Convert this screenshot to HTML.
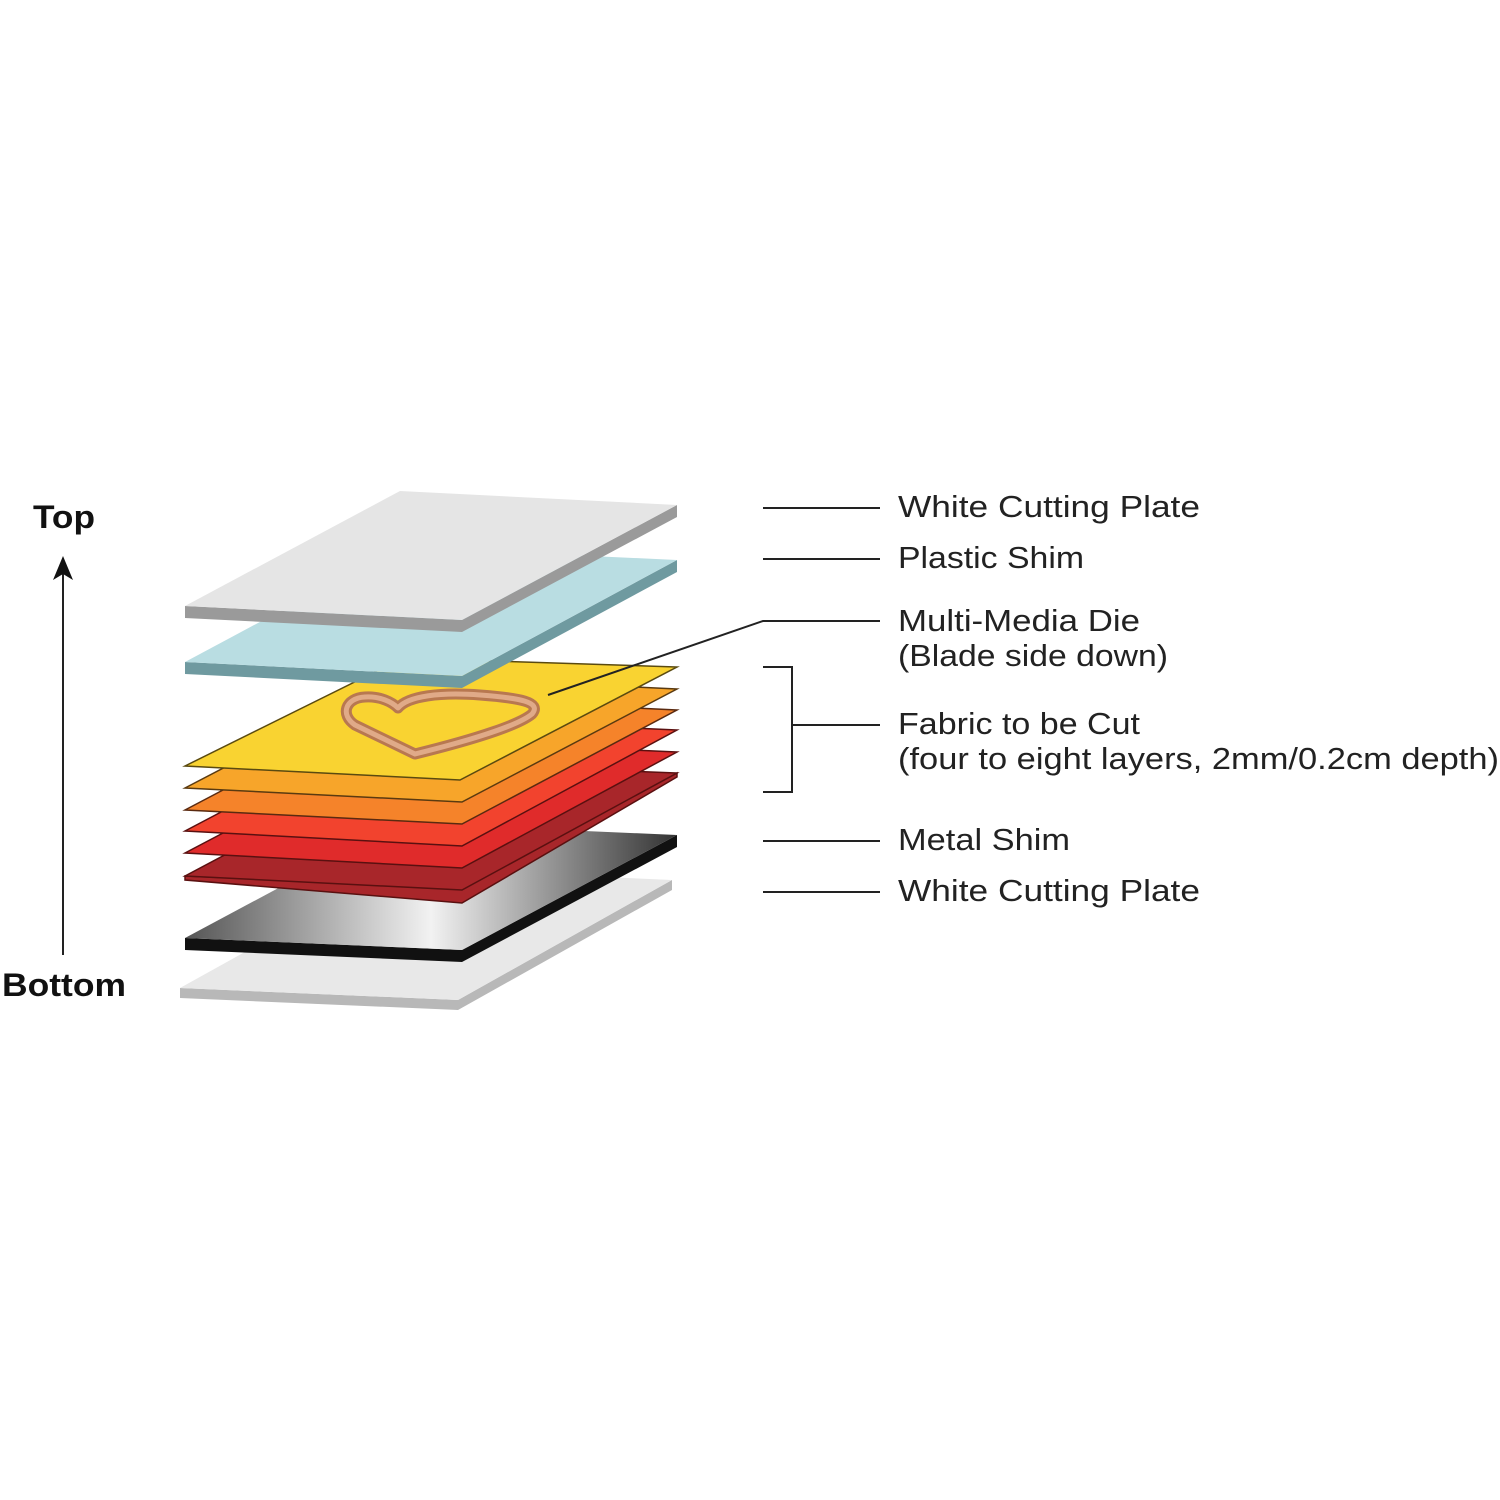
<!DOCTYPE html>
<html><head><style>html,body{margin:0;padding:0;background:#fff}svg{display:block}</style></head>
<body>
<svg width="1500" height="1500" viewBox="0 0 1500 1500" xmlns="http://www.w3.org/2000/svg">
<defs>
<linearGradient id="metal" x1="0" y1="0" x2="1" y2="0">
<stop offset="0" stop-color="#555"/><stop offset="0.5" stop-color="#f2f2f2"/><stop offset="1" stop-color="#333"/>
</linearGradient>
</defs>
<polygon points="180,988 180,998 458,1010 672,890 672,880 458,1000" fill="#b8b8b8"/>
<polygon points="180,988 396,868 672,880 458,1000" fill="#e8e8e8"/>
<polygon points="185,938 185,950 462,962 677,847 677,835 462,950" fill="#111"/>
<polygon points="185,938 400,823 677,835 462,950" fill="url(#metal)"/>
<polygon points="185,876 185,880 462,903 677,777 677,773 462,888" fill="#a8262a" stroke="#5a1010" stroke-width="1.5"/>
<polygon points="185,876 400,762 677,773 462,890" fill="#a8262a" stroke="#5a1010" stroke-width="1.5"/>
<polygon points="185,853 400,740 677,752 462,868" fill="#e02b2b" stroke="#5a1010" stroke-width="1.5"/>
<polygon points="185,831 400,718 677,730 462,846" fill="#f2432e" stroke="#5a1010" stroke-width="1.5"/>
<polygon points="185,810 400,697 677,710 462,824" fill="#f5832a" stroke="#5a2a10" stroke-width="1.5"/>
<polygon points="185,788 400,676 677,689 462,802" fill="#f7a52a" stroke="#5a3a10" stroke-width="1.5"/>
<polygon points="185,766 403,658 677,667 460,780" fill="#f9d331" stroke="#5a4a10" stroke-width="1.5"/>
<path d="M415,754 L355,725 C340,715 345,698 365,697 C380,696 392,702 398,708 C408,696 440,692 480,695 C520,698 542,702 532,714 C520,724 480,738 415,754 Z" fill="none" stroke="#b87850" stroke-width="11" stroke-linejoin="round"/>
<path d="M415,754 L355,725 C340,715 345,698 365,697 C380,696 392,702 398,708 C408,696 440,692 480,695 C520,698 542,702 532,714 C520,724 480,738 415,754 Z" fill="none" stroke="#e0aa88" stroke-width="5" stroke-linejoin="round"/>
<polygon points="185,662 185,674 462,688 677,572 677,560 462,676" fill="#6f9aa0"/>
<polygon points="185,662 400,547 677,560 462,676" fill="#b9dde2"/>
<polygon points="185,606 185,618 462,632 677,517 677,505 462,620" fill="#9a9a9a"/>
<polygon points="185,606 400,491 677,505 462,620" fill="#e5e5e5"/>
<g stroke="#222" stroke-width="2" fill="none">
<line x1="763" y1="508" x2="880" y2="508"/>
<line x1="763" y1="559" x2="880" y2="559"/>
<polyline points="548,695 763,621 880,621"/>
<polyline points="763,667 792,667 792,792 763,792"/>
<line x1="792" y1="725" x2="880" y2="725"/>
<line x1="763" y1="841" x2="880" y2="841"/>
<line x1="763" y1="892" x2="880" y2="892"/>
<line x1="63" y1="955" x2="63" y2="570"/>
</g>
<polygon points="63,556 53,580 63,574 73,580" fill="#111"/>
<g font-family="Liberation Sans, sans-serif" font-size="31" fill="#222" lengthAdjust="spacingAndGlyphs">
<text x="898" y="517" textLength="302" lengthAdjust="spacingAndGlyphs">White Cutting Plate</text>
<text x="898" y="568" textLength="186" lengthAdjust="spacingAndGlyphs">Plastic Shim</text>
<text x="898" y="631" textLength="242" lengthAdjust="spacingAndGlyphs">Multi-Media Die</text>
<text x="898" y="666" textLength="270" lengthAdjust="spacingAndGlyphs">(Blade side down)</text>
<text x="898" y="734" textLength="242" lengthAdjust="spacingAndGlyphs">Fabric to be Cut</text>
<text x="898" y="769" textLength="601" lengthAdjust="spacingAndGlyphs">(four to eight layers, 2mm/0.2cm depth)</text>
<text x="898" y="850" textLength="172" lengthAdjust="spacingAndGlyphs">Metal Shim</text>
<text x="898" y="901" textLength="302" lengthAdjust="spacingAndGlyphs">White Cutting Plate</text>
</g>
<g font-family="Liberation Sans, sans-serif" font-size="32" font-weight="bold" fill="#111">
<text x="33" y="528" textLength="62" lengthAdjust="spacingAndGlyphs">Top</text>
<text x="2" y="996" textLength="124" lengthAdjust="spacingAndGlyphs">Bottom</text>
</g>
</svg>
</body></html>
